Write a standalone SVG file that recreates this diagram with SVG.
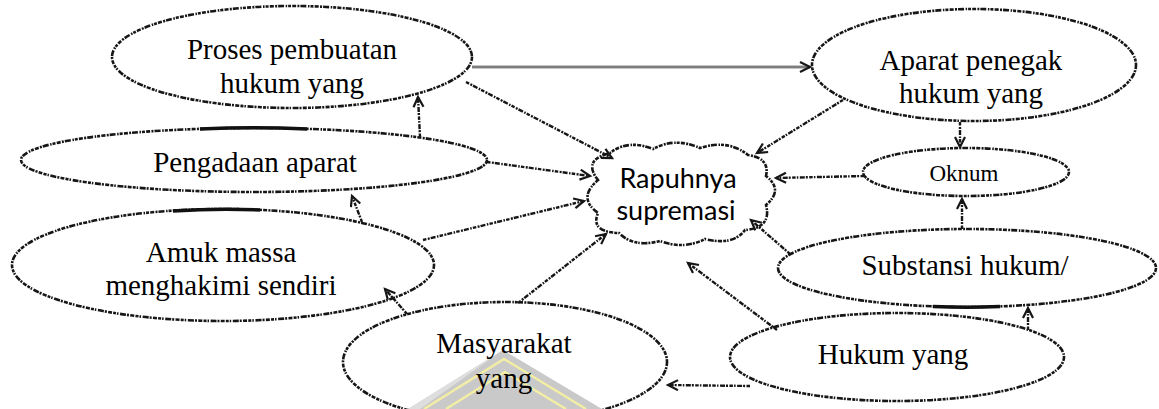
<svg xmlns="http://www.w3.org/2000/svg" width="1159" height="409" viewBox="0 0 1159 409">
  <style>
    .outline { fill: none; stroke: #161616; stroke-width: 2.6; stroke-dasharray: 4 1.3 2 1 6 1.6 1.5 1 3 1.2; }
    .heavy { fill: none; stroke: #111; stroke-width: 3.6; }
    .link { fill: none; stroke: #161616; stroke-width: 2.4; stroke-dasharray: 3.5 1.4 2 1 5 1.5 1.5 1.2; marker-end: url(#tip); }
    .label { font-family: "Liberation Serif", "Times New Roman", serif; font-size: 29px; fill: #000; text-anchor: middle; }
    .small { font-size: 23px; }
    .core { font-family: Lato, "Open Sans", "Liberation Sans", sans-serif; font-size: 27px; fill: #000; text-anchor: middle; }
  </style>
  <defs>
    <marker id="tip" markerUnits="userSpaceOnUse" markerWidth="14" markerHeight="14" refX="11" refY="6" orient="auto">
      <path d="M1,1 L11,6 L1,11" fill="none" stroke="#161616" stroke-width="2.2"/>
    </marker>
  </defs>

  <rect width="1159" height="409" fill="#ffffff"/>

  <!-- emblem mark at the foot of the page, behind everything -->
  <g id="emblem">
    <polygon points="408,409 503,350 602,409" fill="#c9c9c9"/>
    <polygon points="408,409 503,350 420,409" fill="#dedede"/>
    <polyline points="424,409 504,359 586,409" fill="none" stroke="#f3eea4" stroke-width="2.4"/>
    <polyline points="446,409 505,372 566,409" fill="none" stroke="#f3eea4" stroke-width="2.4"/>
  </g>

  <g id="node-proses">
    <ellipse class="outline" cx="292" cy="57" rx="180" ry="51"/>
    <text class="label" x="292" y="59">Proses pembuatan</text>
    <text class="label" x="292" y="93">hukum yang</text>
  </g>

  <g id="node-aparat">
    <ellipse class="outline" cx="974" cy="65" rx="162" ry="56"/>
    <text class="label" x="971" y="70">Aparat penegak</text>
    <text class="label" x="971" y="103">hukum yang</text>
  </g>

  <g id="node-pengadaan">
    <ellipse class="outline" cx="254" cy="160" rx="233" ry="32"/>
    <path class="heavy" d="M200,129 Q254,126.5 307,129"/>
    <text class="label" x="255" y="172">Pengadaan aparat</text>
  </g>

  <g id="node-amuk">
    <ellipse class="outline" cx="223" cy="265" rx="211" ry="56"/>
    <path class="heavy" d="M173,211 Q218,208 260,210"/>
    <text class="label" x="221" y="262">Amuk massa</text>
    <text class="label" x="221" y="295">menghakimi sendiri</text>
  </g>

  <g id="node-core">
    <path class="outline" d="M598,180 Q582,160 610,153 Q628,139 653,149 Q675,137 700,148 Q728,139 748,155 Q770,158 766,176 Q784,190 766,205 Q772,228 745,230 Q733,246 705,239 Q684,250 660,241 Q634,248 619,233 Q590,232 598,213 Q577,198 598,180 Z"/>
    <text class="core" x="678" y="188">Rapuhnya</text>
    <text class="core" x="676" y="220">supremasi</text>
  </g>

  <g id="node-oknum">
    <ellipse class="outline" cx="966" cy="172" rx="103" ry="24"/>
    <text class="label small" x="964" y="181">Oknum</text>
  </g>

  <g id="node-substansi">
    <ellipse class="outline" cx="967" cy="268" rx="189" ry="39"/>
    <path class="heavy" d="M933,306.5 Q967,308 1000,306.5"/>
    <text class="label" x="965" y="275">Substansi hukum/</text>
  </g>

  <g id="node-hukum">
    <ellipse class="outline" cx="897" cy="357" rx="167" ry="44"/>
    <text class="label" x="893" y="364">Hukum yang</text>
  </g>

  <g id="node-masyarakat">
    <ellipse class="outline" cx="505" cy="362" rx="162" ry="60"/>
    <text class="label" x="504" y="353">Masyarakat</text>
    <text class="label" x="504" y="388">yang</text>
  </g>

  <!-- connectors -->
  <g id="connectors">
    <!-- plain grey link between the two top nodes -->
    <line x1="472" y1="67" x2="810" y2="67" stroke="#b0b0b0" stroke-width="3.6"/>
    <line x1="472" y1="67" x2="810" y2="67" stroke="#6e6e6e" stroke-width="1.4" marker-end="url(#tip)"/>
    <path class="link" d="M466,82 L612,158"/>
    <path class="link" d="M420,137 L418,97"/>
    <path class="link" d="M487,162 L590,176"/>
    <path class="link" d="M362,222 L352,196"/>
    <path class="link" d="M423,240 L584,201"/>
    <path class="link" d="M407,314 L385,289"/>
    <path class="link" d="M518,303 L606,234"/>
    <path class="link" d="M777,330 L688,263"/>
    <path class="link" d="M790,254 L751,220"/>
    <path class="link" d="M750,386 L668,385"/>
    <path class="link" d="M1028,330 L1028,308"/>
    <path class="link" d="M962,229 L962,199"/>
    <path class="link" d="M864,176 L776,178"/>
    <path class="link" d="M960,122 L960,147"/>
    <path class="link" d="M843,100 L757,153"/>
  </g>
</svg>
